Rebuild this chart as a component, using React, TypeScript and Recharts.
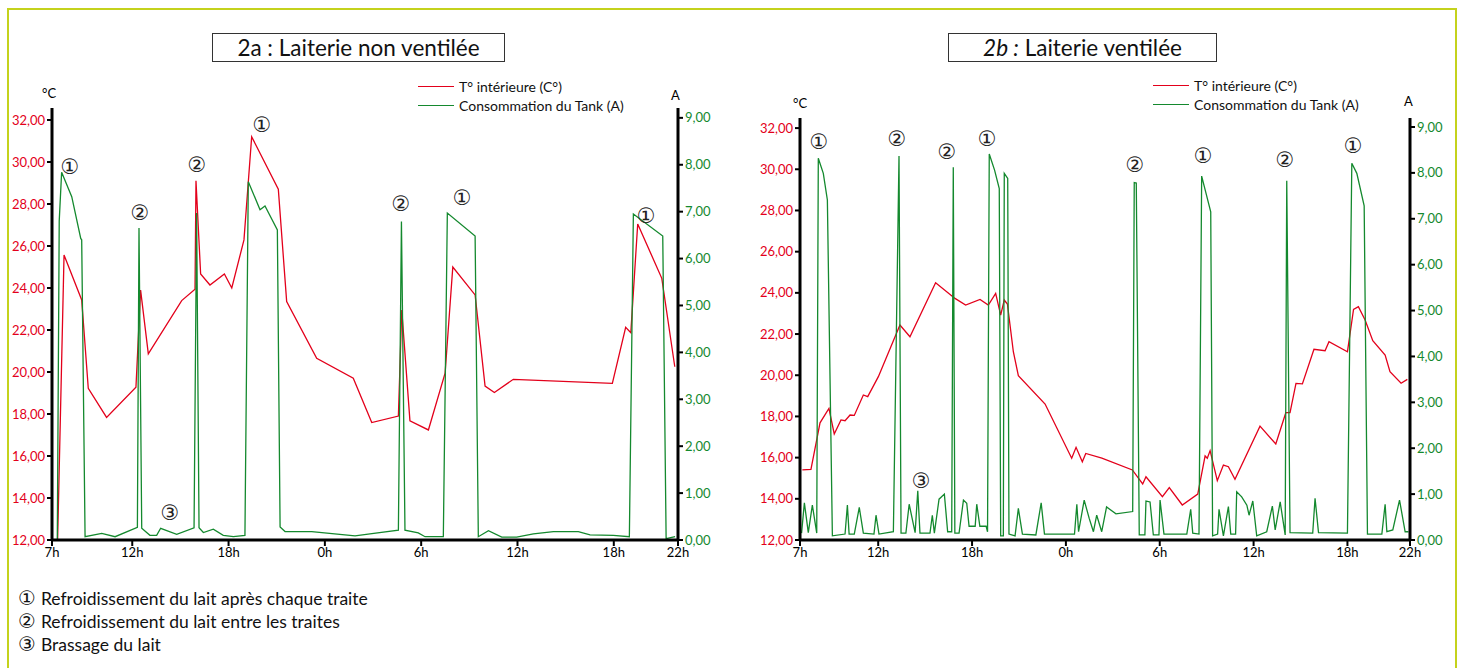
import { ComposedChart, Line, XAxis, YAxis, ReferenceDot } from "recharts";

// heures depuis 7h le premier jour (24 = 0h, 46 = 22h le lendemain)
const HOUR_TICKS = [7, 12, 18, 24, 30, 36, 42, 46];
const TEMP_TICKS = [12, 14, 16, 18, 20, 22, 24, 26, 28, 30, 32];
const AMP_TICKS = [0, 1, 2, 3, 4, 5, 6, 7, 8, 9];

// 2a : Laiterie non ventilée
const tempA = [
  [7.35, 12.0], [7.75, 25.57], [8.85, 23.43], [9.26, 19.22], [10.4, 17.84],
  [12.23, 19.27], [12.52, 23.9], [13.0, 20.86], [15.08, 23.4], [15.91, 23.94],
  [15.97, 29.1], [16.26, 24.67], [16.84, 24.14], [17.74, 24.67], [18.2, 24.0],
  [18.96, 26.29], [19.44, 31.2], [21.1, 28.7], [21.62, 23.35], [23.49, 20.65],
  [25.77, 19.7], [26.92, 17.59], [28.58, 17.9], [28.79, 22.95], [29.3, 17.68],
  [30.45, 17.24], [31.49, 19.94], [31.97, 25.0], [33.36, 23.67], [33.98, 19.33],
  [34.56, 19.02], [35.74, 19.65], [41.91, 19.46], [42.74, 22.13], [43.06, 21.87],
  [43.49, 27.05], [44.99, 24.46], [45.8, 20.25],
];

const currA = [
  [7.33, 0], [7.45, 6.8], [7.6, 7.84], [8.23, 7.32], [8.79, 6.43], [8.85, 6.4],
  [9.06, 0.07], [10.1, 0.14], [10.93, 0.07], [12.32, 0.27], [12.42, 6.65],
  [12.59, 0.25], [13.1, 0.1], [13.52, 0.1], [13.77, 0.25], [14.77, 0.12],
  [15.85, 0.26], [16.01, 6.97], [16.16, 0.26], [16.43, 0.16], [17.05, 0.23],
  [17.67, 0.1], [18.3, 0.07], [19.02, 0.1], [19.23, 7.64], [19.96, 7.04],
  [20.27, 7.12], [21.04, 6.61], [21.21, 0.28], [21.52, 0.18], [23.18, 0.18],
  [25.88, 0.09], [26.81, 0.13], [28.58, 0.21], [28.77, 6.79], [28.99, 0.21],
  [29.82, 0.15], [30.24, 0.07], [31.38, 0.07], [31.63, 6.97], [33.36, 6.48],
  [33.56, 0.07], [34.19, 0.2], [35.02, 0.06], [35.95, 0.06], [36.99, 0.13],
  [38.24, 0.18], [39.79, 0.18], [40.52, 0.11], [41.97, 0.1], [42.97, 0.07],
  [43.22, 6.95], [45.05, 6.48], [45.26, 0.03], [45.82, 0.07],
];

const notesA = [
  [8.12, 29.76, "①"], [12.48, 27.57, "②"], [16.03, 29.86, "②"], [20.08, 31.76, "①"],
  [14.35, 13.29, "③"], [28.74, 28.0, "②"], [32.55, 28.29, "①"], [44.01, 27.43, "①"],
];

// 2b : Laiterie ventilée
const tempB = [
  [7.15, 15.4], [7.7, 15.43], [8.28, 17.69], [8.85, 18.39], [9.19, 17.15],
  [9.62, 17.83], [9.88, 17.79], [10.2, 18.07], [10.47, 18.05], [11.05, 19.04],
  [11.33, 18.96], [12.01, 19.93], [13.39, 22.44], [14.03, 21.87], [15.67, 24.49],
  [16.91, 23.73], [17.59, 23.41], [18.51, 23.68], [19.04, 23.41], [19.51, 23.97],
  [19.83, 22.92], [20.06, 23.65], [20.26, 23.46], [20.64, 21.14], [20.96, 19.98],
  [22.67, 18.6], [24.37, 15.97], [24.65, 16.5], [25.05, 15.8], [25.27, 16.2],
  [26.3, 15.98], [28.25, 15.4], [28.91, 14.72], [29.12, 15.07], [30.17, 14.1],
  [30.61, 14.54], [31.44, 13.7], [32.43, 14.23], [32.9, 16.08], [33.04, 15.97],
  [33.22, 16.34], [33.68, 14.88], [34.07, 15.64], [34.39, 15.56], [34.81, 14.95],
  [36.41, 17.53], [37.42, 16.66], [38.06, 18.18], [38.33, 18.18], [38.71, 19.6],
  [39.12, 19.58], [39.86, 21.26], [40.57, 21.19], [40.82, 21.63], [42.0, 21.14],
  [42.39, 23.2], [42.7, 23.33], [43.13, 22.68], [43.62, 21.68], [44.41, 20.98],
  [44.72, 20.17], [45.43, 19.61], [45.83, 19.8],
];

const currB = [
  [7.1, 0.15], [7.28, 0.81], [7.53, 0.16], [7.79, 0.76], [8.07, 0.15], [8.17, 8.32],
  [8.49, 7.99], [8.75, 7.41], [9.07, 0.09], [9.88, 0.13], [10.03, 0.76], [10.14, 0.13],
  [10.47, 0.13], [10.79, 0.71], [11.05, 0.15], [11.73, 0.13], [11.86, 0.54], [12.05, 0.13],
  [12.97, 0.18], [13.33, 8.37], [13.46, 0.15], [13.77, 0.15], [13.98, 0.78], [14.36, 0.16],
  [14.53, 1.07], [14.67, 0.15], [15.31, 0.15], [15.46, 0.54], [15.59, 0.15], [15.89, 0.89],
  [16.23, 1.0], [16.44, 0.18], [16.7, 0.18], [16.8, 8.12], [16.9, 0.15], [17.17, 0.15],
  [17.45, 0.87], [17.66, 0.8], [17.81, 0.3], [18.2, 0.3], [18.3, 0.78], [18.5, 0.3],
  [18.9, 0.3], [18.99, 0.18], [19.1, 8.41], [19.44, 8.06], [19.74, 7.66], [19.83, 0.09],
  [20.0, 0.09], [20.06, 7.99], [20.28, 7.88], [20.36, 0.13], [20.75, 0.09], [20.96, 0.69],
  [21.22, 0.13], [22.08, 0.11], [22.42, 0.81], [22.63, 0.13], [24.55, 0.13], [24.7, 0.78],
  [24.81, 0.18], [25.17, 0.87], [25.49, 0.47], [25.76, 0.18], [25.97, 0.54], [26.29, 0.18],
  [26.6, 0.72], [27.2, 0.57], [28.27, 0.62], [28.37, 7.79], [28.5, 7.78], [28.69, 0.11],
  [29.05, 0.11], [29.12, 0.85], [29.38, 0.83], [29.59, 0.11], [29.95, 0.11], [30.02, 0.87],
  [30.27, 0.13], [31.73, 0.13], [31.98, 0.67], [32.11, 0.15], [32.51, 0.13], [32.68, 7.93],
  [33.26, 7.15], [33.38, 0.09], [33.7, 0.13], [33.79, 0.67], [34.07, 0.09], [34.39, 0.73],
  [34.54, 0.13], [34.85, 0.13], [34.92, 1.05], [35.24, 0.94], [35.57, 0.76], [35.71, 0.54],
  [35.95, 0.85], [36.2, 0.09], [36.84, 0.18], [37.2, 0.74], [37.38, 0.22], [37.7, 0.83],
  [38.02, 0.11], [38.12, 7.83], [38.33, 0.16], [39.78, 0.15], [39.93, 0.91], [40.15, 0.16],
  [42.0, 0.15], [42.28, 8.21], [42.6, 7.99], [43.07, 7.28], [43.28, 0.13], [44.2, 0.13],
  [44.41, 0.78], [44.52, 0.18], [44.9, 0.22], [45.33, 0.87], [45.69, 0.18], [45.9, 0.18],
];

const notesB = [
  [8.21, 31.37, "①"], [13.2, 31.51, "②"], [16.4, 30.88, "②"], [18.96, 31.47, "①"],
  [14.74, 14.91, "③"], [28.42, 30.25, "②"], [32.77, 30.69, "①"], [38.01, 30.45, "②"],
  [42.36, 31.13, "①"],
];

const footNotes = [
  ["①", "Refroidissement du lait après chaque traite"],
  ["②", "Refroidissement du lait entre les traites"],
  ["③", "Brassage du lait"],
];

const RED = "#e3001b";
const GREEN = "#14892e";
const FONT = "Lato, 'Open Sans', sans-serif";
const CIRCLED = "'DejaVu Sans', sans-serif";

const toPts = (arr) => arr.map(([h, v]) => ({ h, v }));
const fmt = (v) => v.toFixed(2).replace(".", ",");

function Panel({ left, width, margin, tMax, aMax, temp, curr, notes }) {
  return (
    <div style={{ position: "absolute", left, top: 0 }}>
      <ComposedChart width={width} height={590} margin={margin}>
        <XAxis
          type="number"
          dataKey="h"
          domain={[7, 46]}
          ticks={HOUR_TICKS}
          interval={0}
          allowDataOverflow
          tickFormatter={(h) => `${h % 24}h`}
          axisLine={{ stroke: "#000", strokeWidth: 3 }}
          tickLine={{ stroke: "#000", strokeWidth: 2 }}
          tickSize={6}
          tick={{ fill: "#000", fontSize: 13, fontFamily: FONT }}
          height={30}
        />
        <YAxis
          yAxisId="t"
          orientation="left"
          domain={[12, tMax]}
          ticks={TEMP_TICKS}
          interval={0}
          allowDataOverflow
          tickFormatter={fmt}
          axisLine={{ stroke: "#000", strokeWidth: 3 }}
          tickLine={{ stroke: "#000", strokeWidth: 2 }}
          tickSize={5}
          tick={{ fill: RED, fontSize: 13, fontFamily: FONT }}
          width={45}
        />
        <YAxis
          yAxisId="a"
          orientation="right"
          domain={[0, aMax]}
          ticks={AMP_TICKS}
          interval={0}
          allowDataOverflow
          tickFormatter={fmt}
          axisLine={{ stroke: "#000", strokeWidth: 3 }}
          tickLine={{ stroke: "#000", strokeWidth: 2 }}
          tickSize={5}
          tick={{ fill: GREEN, fontSize: 13, fontFamily: FONT }}
          width={45}
        />
        <Line
          yAxisId="t"
          data={toPts(temp)}
          dataKey="v"
          type="linear"
          stroke={RED}
          strokeWidth={1.3}
          dot={false}
          isAnimationActive={false}
        />
        <Line
          yAxisId="a"
          data={toPts(curr)}
          dataKey="v"
          type="linear"
          stroke={GREEN}
          strokeWidth={1.3}
          dot={false}
          isAnimationActive={false}
        />
        {notes.map(([h, t, s], i) => (
          <ReferenceDot
            key={i}
            yAxisId="t"
            x={h}
            y={t}
            r={0}
            fill="none"
            stroke="none"
            label={{
              value: s,
              position: "center",
              fill: "#222",
              fontSize: 21,
              fontFamily: CIRCLED,
            }}
          />
        ))}
      </ComposedChart>
    </div>
  );
}

function Legend({ left, top }) {
  const row = (color, text) => (
    <div style={{ display: "flex", alignItems: "center", height: 19 }}>
      <div style={{ width: 36, height: 0, borderTop: `1.5px solid ${color}`, marginRight: 5 }} />
      <span>{text}</span>
    </div>
  );
  return (
    <div style={{ position: "absolute", left, top, fontFamily: FONT, fontSize: 14, color: "#111" }}>
      {row(RED, "T° intérieure (C°)")}
      {row(GREEN, "Consommation du Tank (A)")}
    </div>
  );
}

const abs = (left, top, extra = {}) => ({ position: "absolute", left, top, ...extra });

export default function App() {
  return (
    <div
      style={{
        position: "absolute",
        left: 0,
        top: 0,
        width: 1463,
        height: 668,
        overflow: "hidden",
        background: "#fff",
        fontFamily: FONT,
      }}
    >
      <div
        style={abs(7, 8, {
          width: 1446,
          height: 700,
          borderTop: "2px solid #c4d21c",
          borderLeft: "2px solid #c4d21c",
          borderRight: "2px solid #c4d21c",
        })}
      />

      <Panel
        left={0}
        width={730}
        margin={{ top: 108, right: 7, bottom: 20, left: 7 }}
        tMax={32.57}
        aMax={9.21}
        temp={tempA}
        curr={currA}
        notes={notesA}
      />
      <Panel
        left={740}
        width={730}
        margin={{ top: 118, right: 15, bottom: 20, left: 15 }}
        tMax={32.49}
        aMax={9.196}
        temp={tempB}
        curr={currB}
        notes={notesB}
      />

      <div
        style={abs(212, 33, {
          width: 291,
          height: 27,
          border: "1px solid #333",
          textAlign: "center",
          fontSize: 22.5,
          lineHeight: "27px",
          color: "#111",
        })}
      >
        2a : Laiterie non ventilée
      </div>
      <div
        style={abs(948, 33, {
          width: 267,
          height: 27,
          border: "1px solid #333",
          textAlign: "center",
          fontSize: 22.5,
          lineHeight: "27px",
          color: "#111",
        })}
      >
        <span style={{ fontStyle: "italic" }}>2b :</span> Laiterie ventilée
      </div>

      <Legend left={418} top={77} />
      <Legend left={1153} top={76} />

      <div style={abs(42, 85, { fontSize: 13 })}>°C</div>
      <div style={abs(671, 87, { fontSize: 13 })}>A</div>
      <div style={abs(793, 95, { fontSize: 13 })}>°C</div>
      <div style={abs(1404, 93, { fontSize: 13 })}>A</div>

      <div style={abs(18, 587, { fontSize: 17.5, lineHeight: "22px", color: "#111" })}>
        {footNotes.map(([n, t]) => (
          <div key={n}>
            <span style={{ fontFamily: CIRCLED, fontSize: 20, marginRight: 5 }}>{n}</span>
            {t}
          </div>
        ))}
      </div>
    </div>
  );
}
